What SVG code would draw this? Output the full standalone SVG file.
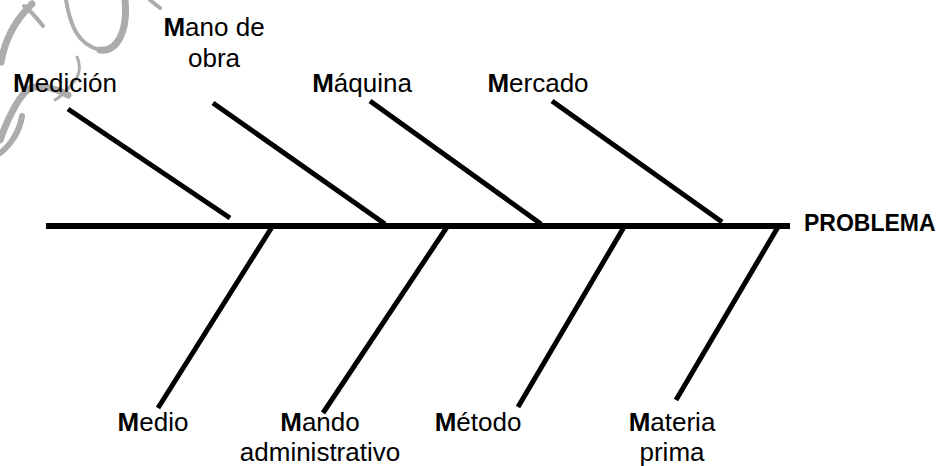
<svg xmlns="http://www.w3.org/2000/svg" width="942" height="466" viewBox="0 0 942 466">
<style>
.lbl{font-family:"Liberation Sans",Arial,sans-serif;font-size:26px;fill:#000}
.lbl tspan.m{font-weight:bold}
.prob{font-family:"Liberation Sans",Arial,sans-serif;font-size:23px;font-weight:bold;fill:#000}
.bone{stroke:#000;stroke-width:5;fill:none}
.spine{stroke:#000;stroke-width:6;fill:none}
.wm{stroke:#acacac;fill:none;stroke-linecap:round}
</style>
<rect width="942" height="466" fill="#fff"/>
<g id="watermark">
<path class="wm" stroke-width="4" d="M66 0 C70 25 78 45 100 50"/>
<path class="wm" stroke-width="7" d="M100 50 C118 52 128 30 125 0"/>
<path class="wm" stroke-width="4" d="M43 26 C36 17 30 10 24 6"/>
<path class="wm" stroke-width="7" d="M32 4 C15 20 5 40 1 62"/>
<path class="wm" stroke-width="3" d="M77 57 C81 66 80 76 72 84 C66 92 60 97 55 100"/>
<path class="wm" stroke-width="7" d="M0 140 C8 118 18 100 25 92 C35 82 55 88 68 95"/>
<path class="wm" stroke-width="6" d="M0 153 C10 146 20 131 22 116"/>
<path class="wm" stroke-width="4" d="M150 0 L160 8"/>
</g>
<g id="connectors">
<line class="spine" x1="46" y1="226" x2="790" y2="226"/>
<line class="bone" x1="68" y1="109" x2="230" y2="218"/>
<line class="bone" x1="213" y1="103" x2="385" y2="224"/>
<line class="bone" x1="370" y1="101" x2="541" y2="224"/>
<line class="bone" x1="552" y1="101" x2="722" y2="222"/>
<line class="bone" x1="272" y1="227" x2="158" y2="408"/>
<line class="bone" x1="447" y1="227" x2="323" y2="413"/>
<line class="bone" x1="624" y1="227" x2="518" y2="407"/>
<line class="bone" x1="778" y1="227" x2="676" y2="400"/>
</g>
<g id="medicion"><text class="lbl" x="65" y="92" text-anchor="middle"><tspan class="m">M</tspan>edición</text></g>
<g id="mano-de-obra"><text class="lbl" x="214" y="36" text-anchor="middle"><tspan class="m">M</tspan>ano de</text><text class="lbl" x="214" y="67" text-anchor="middle">obra</text></g>
<g id="maquina"><text class="lbl" x="362" y="92" text-anchor="middle"><tspan class="m">M</tspan>áquina</text></g>
<g id="mercado"><text class="lbl" x="538" y="92" text-anchor="middle"><tspan class="m">M</tspan>ercado</text></g>
<g id="problema"><text class="prob" x="804" y="231">PROBLEMA</text></g>
<g id="medio"><text class="lbl" x="153" y="431" text-anchor="middle"><tspan class="m">M</tspan>edio</text></g>
<g id="mando"><text class="lbl" x="320" y="431" text-anchor="middle"><tspan class="m">M</tspan>ando</text><text class="lbl" x="320" y="461" text-anchor="middle">administrativo</text></g>
<g id="metodo"><text class="lbl" x="478" y="431" text-anchor="middle"><tspan class="m">M</tspan>étodo</text></g>
<g id="materia"><text class="lbl" x="672" y="431" text-anchor="middle"><tspan class="m">M</tspan>ateria</text><text class="lbl" x="672" y="461" text-anchor="middle">prima</text></g>
</svg>
